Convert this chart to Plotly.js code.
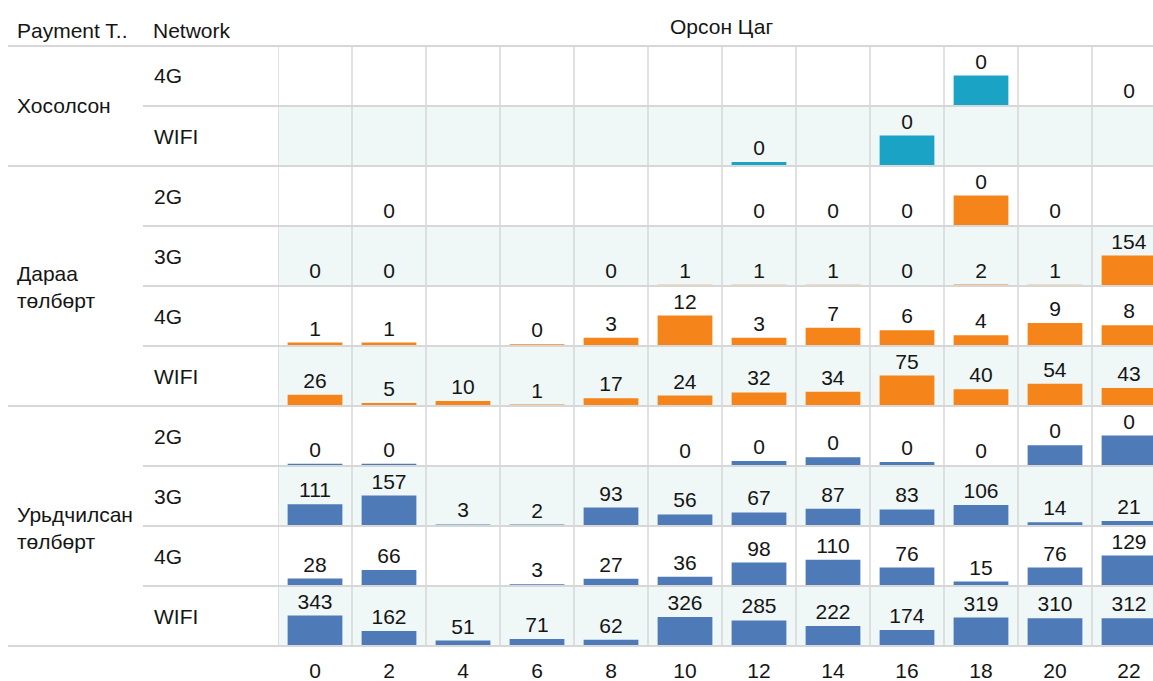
<!DOCTYPE html>
<html>
<head>
<meta charset="utf-8">
<script src="https://cdn.plot.ly/plotly-3.0.1.min.js"></script>
<style>
html,body{margin:0;padding:0;background:#fff;}
#chart{width:1153px;height:681px;}
</style>
</head>
<body>
<div id="chart"></div>
<script>
// ---- Data ----
const hours = ['0','2','4','6','8','10','12','14','16','18','20','22'];
const paymentTypes = ['Хосолсон', 'Дараа<br>төлбөрт', 'Урьдчилсан<br>төлбөрт'];
const headerPayment = 'Payment T..';
const headerNetwork = 'Network';
const headerHour = 'Орсон Цаг';

// Хосолсон
const combined4G   = [null,null,null,null,null,null,null,null,null,0.4,null,0.0005];
const combinedWIFI = [null,null,null,null,null,null,0.04,null,0.4,null,null,null];
// Дараа төлбөрт
const postpaid2G   = [null,0.0005,null,null,null,null,0.0005,0.0005,0.0005,0.4,0.0005,null];
const postpaid3G   = [0.3,0.2,null,null,0.3,1,1,1,0.4,2,1,154];
const postpaid4G   = [1,1,null,0.3,3,12,3,7,6,4,9,8];
const postpaidWIFI = [26,5,10,1,17,24,32,34,75,40,54,43];
// Урьдчилсан төлбөрт
const prepaid2G    = [0.02,0.02,null,null,null,0.0005,0.06,0.12,0.045,0.0005,0.3,0.45];
const prepaid3G    = [111,157,3,2,93,56,67,87,83,106,14,21];
const prepaid4G    = [28,66,null,3,27,36,98,110,76,15,76,129];
const prepaidWIFI  = [343,162,51,71,62,326,285,222,174,319,310,312];

const rowNetworks = ['4G','WIFI','2G','3G','4G','WIFI','2G','3G','4G','WIFI'];
const rowValues = [combined4G, combinedWIFI, postpaid2G, postpaid3G, postpaid4G, postpaidWIFI,
                   prepaid2G, prepaid3G, prepaid4G, prepaidWIFI];
const rowGroup = [0,0,1,1,1,1,2,2,2,2];

// ---- Styles ----
const W = 1153, H = 681;
const groupColors = ['#1ba3c6', '#f5841a', '#4e7ab8'];
const FONT = 'Liberation Sans, Arial, sans-serif';
const FS = 21;
const TXT = '#151515';
const GRID = '#d7d7d7';
const SHADE = '#eff7f7';
const top0 = 46, rowH = 60;
const xLeft = 278, colW = 74;

const px = x => x / W;
const py = y => 1 - y / H;

const traces = [];
const layout = {
  width: W, height: H,
  margin: {l:0, r:0, t:0, b:0},
  paper_bgcolor: '#fff', plot_bgcolor: 'rgba(0,0,0,0)',
  showlegend: false,
  bargap: 0.26,
  font: {family: FONT, size: FS, color: TXT},
  hovermode: false,
  xaxis: {
    type: 'category',
    domain: [px(xLeft), 1],
    range: [-0.5, -0.5 + (W - xLeft) / colW],
    anchor: 'free',
    position: py(656),
    showgrid: false, zeroline: false, showline: false,
    ticks: '', tickfont: {family: FONT, size: FS, color: TXT},
    fixedrange: true
  },
  shapes: [],
  annotations: []
};

rowValues.forEach((vals, k) => {
  const ax = k === 0 ? '' : String(k + 1);
  const yTop = top0 + rowH * k;
  const yBot = yTop + rowH - 1;
  const maxV = Math.max(...vals.filter(v => v != null));
  layout['yaxis' + ax] = {
    domain: [py(yBot), py(yTop)],
    range: [0, maxV * 2],
    anchor: 'x',
    showgrid: false, zeroline: false, showline: false, showticklabels: false, ticks: '',
    fixedrange: true
  };
  const g = rowGroup[k];
  traces.push({
    type: 'bar',
    x: hours,
    y: vals,
    xaxis: 'x', yaxis: 'y' + ax,
    marker: {color: groupColors[g], line: {width: 0}},
    text: vals.map(v => v == null ? '' : String(Math.round(v))),
    textposition: 'outside',
    constraintext: 'none',
    cliponaxis: false,
    textfont: {family: FONT, size: FS, color: TXT},
    hoverinfo: 'skip'
  });
  if (k % 2 === 1) {
    layout.shapes.push({type:'rect', xref:'paper', yref:'paper', layer:'below',
      x0: px(xLeft), x1: 1, y0: py(yTop + rowH), y1: py(yTop), fillcolor: SHADE, line:{width:0}});
  }
  layout.annotations.push({xref:'paper', yref:'paper', x: px(152), y: py(yTop + 30),
    xanchor:'left', yanchor:'middle', text: rowNetworks[k], showarrow:false,
    font:{family: FONT, size: FS, color: TXT}});
});

// horizontal lines
const groupStarts = [0, 2, 6, 10];
for (let k = 0; k <= 10; k++) {
  const y = top0 + rowH * k;
  const isGroup = groupStarts.includes(k);
  layout.shapes.push({type:'line', xref:'paper', yref:'paper', layer:'below',
    x0: px(isGroup ? 8 : 143), x1: 1, y0: py(y), y1: py(y), line:{color: GRID, width: 2}});
}
// vertical lines at column boundaries
for (let i = 0; i <= hours.length; i++) {
  layout.shapes.push({type:'line', xref:'x', yref:'paper', layer:'below',
    x0: i - 0.5, x1: i - 0.5, y0: py(top0 + rowH * 10), y1: py(top0), line:{color: GRID, width: 1.5}});
}

// group labels
const groupCenters = [106, 287, 528];
paymentTypes.forEach((t, i) => {
  layout.annotations.push({xref:'paper', yref:'paper', x: px(15), y: py(groupCenters[i]),
    xanchor:'left', yanchor:'middle', align:'left', text: t, showarrow:false,
    font:{family: FONT, size: FS, color: TXT}});
});
// headers
layout.annotations.push({xref:'paper', yref:'paper', x: px(15), y: py(30), xanchor:'left', yanchor:'middle',
  text: headerPayment, showarrow:false, font:{family: FONT, size: FS, color: TXT}});
layout.annotations.push({xref:'paper', yref:'paper', x: px(151), y: py(30), xanchor:'left', yanchor:'middle',
  text: headerNetwork, showarrow:false, font:{family: FONT, size: FS, color: TXT}});
layout.annotations.push({xref:'paper', yref:'paper', x: px(722), y: py(27), xanchor:'center', yanchor:'middle',
  text: headerHour, showarrow:false, font:{family: FONT, size: FS, color: TXT}});

Plotly.newPlot('chart', traces, layout, {displayModeBar: false, staticPlot: true});
</script>
</body>
</html>
